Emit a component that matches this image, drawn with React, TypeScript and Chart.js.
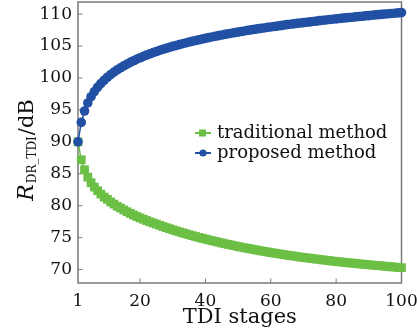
import React, { useEffect, useRef } from 'react';
import { Chart, registerables } from 'chart.js';

Chart.register(...registerables);

// TDI stages (categories 1..100)
const stages: number[] = Array.from({ length: 100 }, (_, i) => i + 1);

const traditional: number[] = [
  90.00, 87.19, 85.63, 84.48, 83.61, 82.92, 82.35, 81.82, 81.36, 81.00,
  80.59, 80.26, 79.91, 79.64, 79.34, 79.06, 78.80, 78.55, 78.31, 78.09,
  77.88, 77.68, 77.48, 77.30, 77.12, 76.93, 76.75, 76.57, 76.40, 76.23,
  76.07, 75.91, 75.75, 75.61, 75.46, 75.32, 75.18, 75.04, 74.91, 74.78,
  74.65, 74.53, 74.41, 74.29, 74.17, 74.05, 73.94, 73.83, 73.72, 73.61,
  73.51, 73.41, 73.32, 73.22, 73.13, 73.03, 72.94, 72.85, 72.76, 72.67,
  72.59, 72.51, 72.43, 72.35, 72.27, 72.19, 72.12, 72.04, 71.97, 71.90,
  71.84, 71.77, 71.71, 71.64, 71.58, 71.51, 71.46, 71.39, 71.33, 71.27,
  71.22, 71.16, 71.11, 71.06, 71.01, 70.96, 70.90, 70.86, 70.81, 70.76,
  70.71, 70.66, 70.62, 70.57, 70.52, 70.48, 70.43, 70.39, 70.34, 70.30,
];

const proposed: number[] = [
  90.00, 93.05, 94.83, 96.09, 97.07, 97.87, 98.55, 99.14, 99.65, 100.12,
  100.53, 100.92, 101.27, 101.60, 101.90, 102.18, 102.45, 102.70, 102.94, 103.17,
  103.38, 103.58, 103.78, 103.97, 104.15, 104.32, 104.48, 104.64, 104.80, 104.95,
  105.09, 105.23, 105.37, 105.49, 105.63, 105.75, 105.87, 105.99, 106.10, 106.21,
  106.32, 106.43, 106.53, 106.63, 106.73, 106.83, 106.92, 107.01, 107.10, 107.19,
  107.28, 107.37, 107.45, 107.53, 107.61, 107.69, 107.77, 107.84, 107.92, 107.99,
  108.06, 108.13, 108.20, 108.28, 108.35, 108.42, 108.48, 108.55, 108.61, 108.67,
  108.73, 108.79, 108.85, 108.91, 108.98, 109.04, 109.09, 109.15, 109.21, 109.26,
  109.31, 109.37, 109.42, 109.47, 109.52, 109.57, 109.63, 109.67, 109.72, 109.77,
  109.82, 109.88, 109.92, 109.97, 110.02, 110.06, 110.11, 110.15, 110.20, 110.24,
];

const xTicks: number[] = [1, 20, 40, 60, 80, 100];
const yTicks: number[] = [70, 75, 80, 85, 90, 95, 100, 105, 110];
const seriesLabels: string[] = ['traditional method', 'proposed method'];
const xTitle = 'TDI stages';

const GREEN = '#6cbf45';
const BLUE = '#2150a4';
const AXIS = '#7a7a7a';
const TEXT = '#111111';
const FONT = '"DejaVu Serif"';

const decorPlugin = {
  id: 'decor',
  beforeDatasetsDraw(chart: any) {
    const { ctx, chartArea } = chart;
    const { left, right, top, bottom } = chartArea;
    ctx.save();
    ctx.strokeStyle = AXIS;
    ctx.lineWidth = 1.5;
    ctx.strokeRect(left, top, right - left, bottom - top);
    ctx.lineWidth = 1;
    const xs = chart.scales.x;
    xs.ticks.forEach((t: any) => {
      const px = xs.getPixelForValue(t.value);
      if (px > left + 2 && px < right - 2) {
        ctx.beginPath();
        ctx.moveTo(px, bottom);
        ctx.lineTo(px, bottom - 4.5);
        ctx.stroke();
      }
    });
    const ys = chart.scales.y;
    ys.ticks.forEach((t: any) => {
      const py = ys.getPixelForValue(t.value);
      ctx.beginPath();
      ctx.moveTo(left, py);
      ctx.lineTo(left + 4.5, py);
      ctx.stroke();
    });
    ctx.restore();
  },
  afterDraw(chart: any) {
    const { ctx, chartArea } = chart;
    ctx.save();
    // legend
    const colors = [GREEN, BLUE];
    const styles = ['rect', 'circle'];
    const ys0 = [133, 153];
    seriesLabels.forEach((lab, i) => {
      const y = ys0[i];
      ctx.strokeStyle = colors[i];
      ctx.fillStyle = colors[i];
      ctx.lineWidth = 2;
      ctx.beginPath();
      ctx.moveTo(195, y);
      ctx.lineTo(211, y);
      ctx.stroke();
      if (styles[i] === 'rect') {
        ctx.fillRect(199, y - 3.5, 7, 7);
      } else {
        ctx.beginPath();
        ctx.arc(203, y, 3.6, 0, Math.PI * 2);
        ctx.fill();
      }
      ctx.fillStyle = TEXT;
      ctx.font = `18px ${FONT}`;
      ctx.textBaseline = 'middle';
      ctx.textAlign = 'left';
      ctx.fillText(lab, 217, y);
    });
    // x title
    ctx.fillStyle = TEXT;
    ctx.font = `21px ${FONT}`;
    ctx.textAlign = 'center';
    ctx.textBaseline = 'middle';
    ctx.fillText(xTitle, (chartArea.left + chartArea.right) / 2, 318);
    // y title with subscript
    ctx.textAlign = 'left';
    ctx.textBaseline = 'alphabetic';
    const mainFont = `21px ${FONT}`;
    const italFont = `italic 22px ${FONT}`;
    const subFont = `12px ${FONT}`;
    ctx.font = italFont;
    const wR = ctx.measureText('R').width;
    ctx.font = subFont;
    const wS = ctx.measureText('DR_TDI').width;
    ctx.font = mainFont;
    const wD = ctx.measureText('/dB').width;
    const total = wR + 1 + wS + 1 + wD;
    const startY = 150 + total / 2;
    ctx.translate(33, startY);
    ctx.rotate(-Math.PI / 2);
    ctx.font = italFont;
    ctx.fillText('R', 0, 0);
    ctx.font = subFont;
    ctx.fillText('DR_TDI', wR + 1, 3);
    ctx.font = mainFont;
    ctx.fillText('/dB', wR + 1 + wS + 1, 0);
    ctx.restore();
  },
};

export default function App() {
  const ref = useRef<HTMLCanvasElement | null>(null);
  useEffect(() => {
    document.body.style.margin = '0';
    const canvas = ref.current;
    if (!canvas) return;
    const chart = new Chart(canvas, {
      type: 'line',
      data: {
        datasets: [
          {
            label: seriesLabels[0],
            data: stages.map((s, i) => ({ x: s, y: traditional[i] })),
            borderColor: GREEN,
            backgroundColor: GREEN,
            borderWidth: 1.5,
            pointStyle: 'rect',
            pointRadius: 6.2,
            pointBorderWidth: 0,
            pointHoverRadius: 6.2,
            order: 2,
            clip: false,
          },
          {
            label: seriesLabels[1],
            data: stages.map((s, i) => ({ x: s, y: proposed[i] })),
            borderColor: BLUE,
            backgroundColor: BLUE,
            borderWidth: 1.5,
            pointStyle: 'circle',
            pointRadius: 4.8,
            pointBorderWidth: 0,
            pointHoverRadius: 4.8,
            order: 1,
            clip: false,
          },
        ],
      },
      options: {
        animation: false,
        responsive: false,
        maintainAspectRatio: false,
        layout: { autoPadding: false, padding: { top: 2, right: 15.5, left: 0, bottom: 0 } },
        plugins: {
          legend: { display: false },
          tooltip: { enabled: false },
        },
        scales: {
          x: {
            type: 'linear',
            min: 1,
            max: 100,
            grid: { display: false, drawTicks: false },
            border: { display: false },
            afterBuildTicks: (scale: any) => {
              scale.ticks = xTicks.map((v) => ({ value: v }));
            },
            afterFit: (scale: any) => {
              scale.height = 50;
              scale.paddingLeft = 0;
              scale.paddingRight = 0;
            },
            ticks: {
              autoSkip: false,
              maxRotation: 0,
              padding: 8,
              color: TEXT,
              font: { family: 'DejaVu Serif', size: 17 },
              callback: (v: any) => String(v),
            },
          },
          y: {
            type: 'linear',
            min: 67.9,
            max: 111.9,
            grid: { display: false, drawTicks: false },
            border: { display: false },
            afterBuildTicks: (scale: any) => {
              scale.ticks = yTicks.map((v) => ({ value: v }));
            },
            afterFit: (scale: any) => {
              scale.width = 78;
              scale.paddingTop = 0;
              scale.paddingBottom = 0;
            },
            ticks: {
              padding: 6,
              color: TEXT,
              font: { family: 'DejaVu Serif', size: 17 },
              callback: (v: any) => String(v),
            },
          },
        },
      },
      plugins: [decorPlugin],
    } as any);
    return () => chart.destroy();
  }, []);
  return <canvas ref={ref} width={417} height={333} style={{ display: 'block' }} />;
}
